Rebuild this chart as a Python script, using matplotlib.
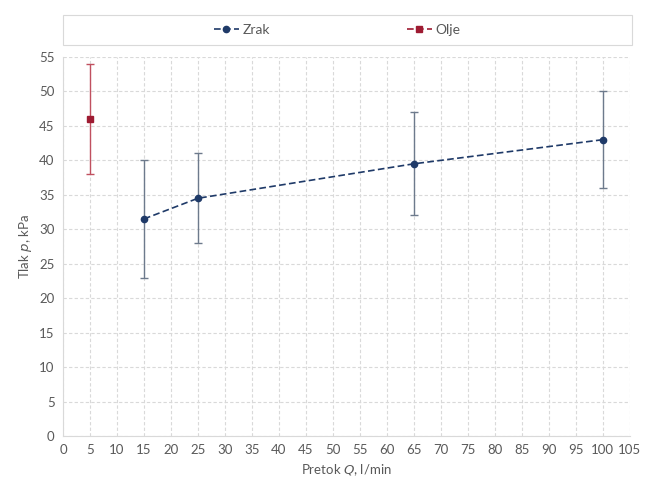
import matplotlib
matplotlib.use("Agg")
import matplotlib.pyplot as plt
from matplotlib.patches import Rectangle

plt.rcParams['font.family'] = ['Lato', 'DejaVu Sans']

zrak_q = [15, 25, 65, 100]
zrak_p = [31.5, 34.5, 39.5, 43]
zrak_lo = [23, 28, 32, 36]
zrak_hi = [40, 41, 47, 50]

olje_q = [5]
olje_p = [46]
olje_lo = [38]
olje_hi = [54]

xticks = list(range(0, 106, 5))
yticks = list(range(0, 56, 5))

zrak_col = '#1f3a68'
zrak_err = '#6d7a8c'
olje_col = '#9e1b32'
olje_err = '#c0505f'
txt = '#595959'

fig = plt.figure(figsize=(6.46, 4.87), dpi=100)
ax = fig.add_axes([0.0975, 0.1047, 0.8775, 0.7783])

ax.errorbar(zrak_q, zrak_p,
            yerr=[[p - l for p, l in zip(zrak_p, zrak_lo)], [h - p for p, h in zip(zrak_p, zrak_hi)]],
            fmt='none', ecolor=zrak_err, elinewidth=1.0, capsize=3, capthick=1.0, zorder=3)
ax.errorbar(olje_q, olje_p,
            yerr=[[p - l for p, l in zip(olje_p, olje_lo)], [h - p for p, h in zip(olje_p, olje_hi)]],
            fmt='none', ecolor=olje_err, elinewidth=1.0, capsize=3, capthick=1.0, zorder=3)
lz, = ax.plot(zrak_q, zrak_p, color=zrak_col, ls=(0, (4, 2)), lw=1.2, marker='o', ms=4.5, zorder=4, label='Zrak')
lo, = ax.plot(olje_q, olje_p, color=olje_col, ls=(0, (4, 2)), lw=1.2, marker='s', ms=4.5, zorder=4, label='Olje')

ax.set_xlim(0, 105)
ax.set_ylim(0, 55)
ax.set_xticks(xticks)
ax.set_yticks(yticks)
ax.grid(True, color='#d9d9d9', lw=0.8, ls=(0, (3, 2)))
ax.set_axisbelow(True)
for s in ['top', 'right']:
    ax.spines[s].set_visible(False)
for s in ['left', 'bottom']:
    ax.spines[s].set_color('#d9d9d9')
ax.tick_params(length=0, labelsize=9.5, colors=txt, pad=6)

ax.set_xlabel(r'Pretok $\it{Q}$, l/min', color=txt, fontsize=9.5, labelpad=4)
ax.set_ylabel(r'Tlak $\it{p}$, kPa', color=txt, fontsize=9.5, labelpad=4)

# legend box
fig.patches.append(Rectangle((63 / 646, 1 - 45 / 487), (632 - 63) / 646, 30 / 487,
                             transform=fig.transFigure, fill=False, ec='#d9d9d9', lw=0.8))
leg = fig.legend(handles=[lz, lo], loc='center', bbox_to_anchor=(0.522, 1 - 30 / 487),
                 ncol=2, frameon=False, fontsize=10, handlelength=1.8, columnspacing=9.8,
                 handletextpad=0.3)
for t in leg.get_texts():
    t.set_color(txt)

fig.savefig('out.png', dpi=100, facecolor='white')
